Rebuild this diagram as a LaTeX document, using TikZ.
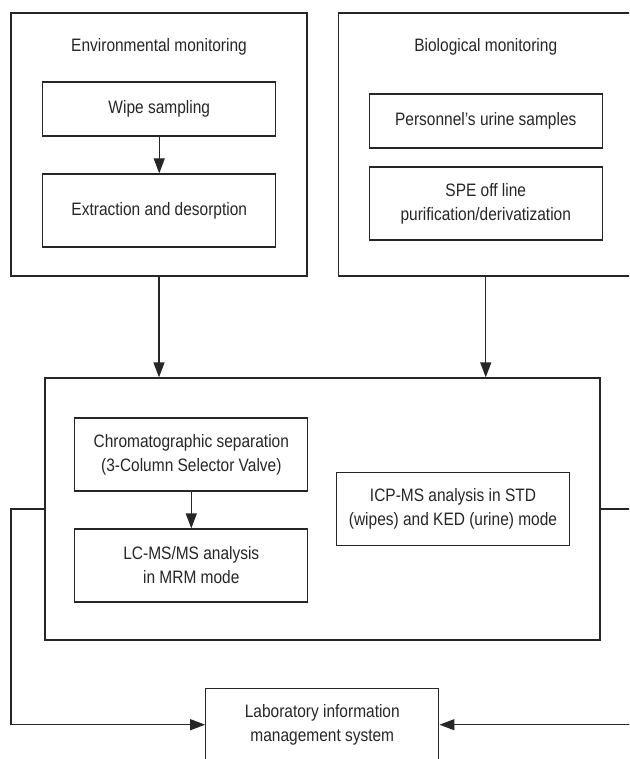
\documentclass[tikz,border=0pt]{standalone}
\usepackage{fontspec}
\setmainfont{Liberation Sans}[FakeStretch=0.86]
\usetikzlibrary{arrows.meta}

\tikzset{boite/.style={draw, minimum width=233pt, minimum height=73pt, align=center, inner sep=0pt},
         cadre/.style={draw, inner sep=0pt},
         fleche/.style={-{Triangle[length=15pt,width=11pt]}}}

\begin{document}
\begin{tikzpicture}[x=1pt, y=-1pt, line width=1.3pt, color=black!85,
                    font=\fontsize{18pt}{24pt}\selectfont]
	          \useasboundingbox (0,0) rectangle (629,759);
	          \clip (0,0) rectangle (629,759);
	          
	          %prelevements
	          \node[cadre, minimum width=296pt, minimum height=263pt] (env) at (159,144.5) {};
	          \node (envt) at (159,47) {Environmental monitoring};
	          \node[boite, minimum height=54pt] (wipe) at (159.25,109) {Wipe sampling};
	          \node[boite] (extr) at (159.25,210.5) {Extraction and desorption};
	          \draw[fleche] (wipe) -- (extr);
	          
	          \node[cadre, minimum width=294.5pt, minimum height=263pt] (bio) at (485.75,144.5) {};
	          \node (biot) at (485.75,47) {Biological monitoring};
	          \node[boite, minimum height=54pt] (pers) at (485.75,121) {Personnel’s urine samples};
	          \node[boite] (spe) at (485.75,203.5) {SPE off line\\purification/derivatization};
	          
	          %analyse
	          \node[cadre, minimum width=555pt, minimum height=262pt] (big) at (322.5,509) {};
	          \node[boite] (chrom) at (191.3,454.5) {Chromatographic separation\\(3-Column Selector Valve)};
	          \node[boite] (lcms) at (191.3,565.5) {LC-MS/MS analysis\\in MRM mode};
	          \node[boite] (icp) at (453,509.3) {ICP-MS analysis in STD\\(wipes) and KED (urine) mode};
	          \draw[fleche] (chrom) -- (lcms);
	          
	          \draw[fleche] (env.south) -- (env.south |- big.north);
	          \draw[fleche] (bio.south) -- (bio.south |- big.north);
	          
	          %LIMS
	          \node[boite] (lims) at (322.3,724.7) {Laboratory information\\management system};
	          \coordinate (g) at (11,509);
	          \coordinate (d) at (634,509);
	          \draw[fleche] (big.west) -- (g) |- (lims.west);
	          \draw[fleche] (big.east) -- (d) |- (lims.east);
\end{tikzpicture}
\end{document}
